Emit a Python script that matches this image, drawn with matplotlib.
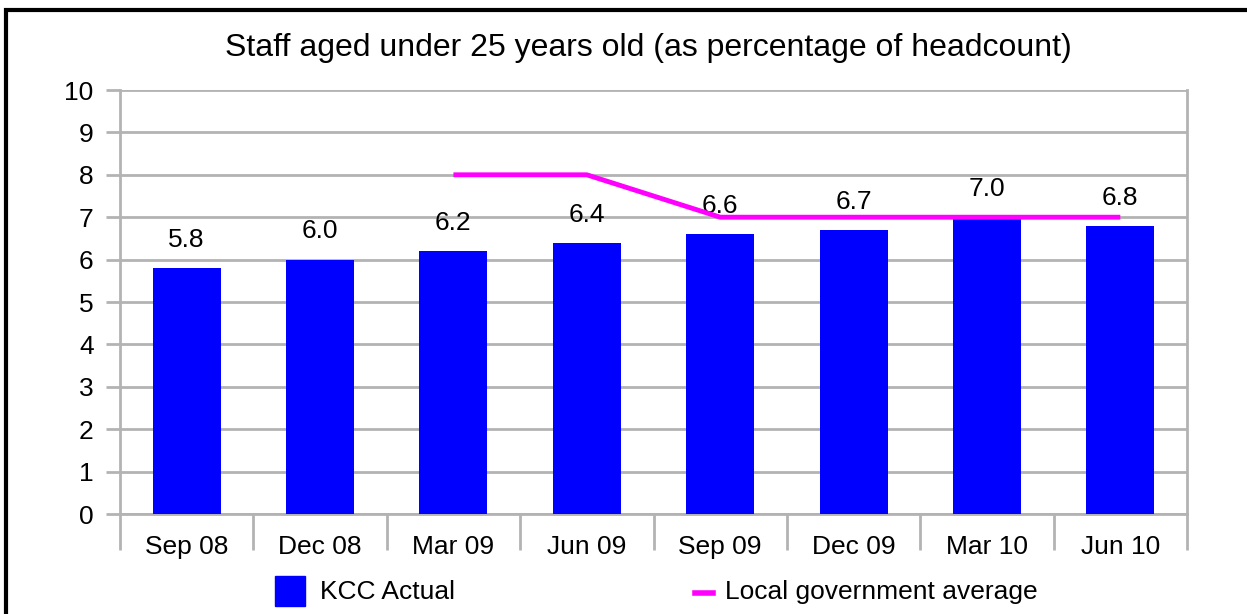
import matplotlib.pyplot as plt
from matplotlib.patches import Rectangle
from matplotlib.lines import Line2D

plt.rcParams['font.family'] = ['Liberation Sans', 'DejaVu Sans']

# Data
quarters = ["Sep 08", "Dec 08", "Mar 09", "Jun 09", "Sep 09", "Dec 09", "Mar 10", "Jun 10"]
kcc_actual = [5.8, 6.0, 6.2, 6.4, 6.6, 6.7, 7.0, 6.8]
lg_average = [None, None, 8, 8, 7, 7, 7, 7]

grey = "#b3b3b3"
W, H = 1247, 614

fig = plt.figure(figsize=(W / 100, H / 100), dpi=100)
ax = fig.add_axes([120 / W, 1 - 514 / H, (1187 - 120) / W, (514 - 90) / H])

x = list(range(len(quarters)))
ax.bar(x, kcc_actual, width=0.51, color="#0000ff", zorder=3)
for xi, v in zip(x, kcc_actual):
    ax.text(xi, v + 0.38, f"{v:.1f}", ha="center", va="bottom", fontsize=19)

lx = [xi for xi, v in zip(x, lg_average) if v is not None]
ly = [v for v in lg_average if v is not None]
ax.plot(lx, ly, color="#ff00ff", linewidth=3.5, zorder=4, solid_capstyle="butt")

ax.set_xlim(-0.5, len(quarters) - 0.5)
ax.set_ylim(0, 10)
ax.set_yticks(range(0, 11))
ax.yaxis.grid(True, color=grey, linewidth=2, zorder=0)
ax.set_axisbelow(True)

ax.set_xticks(x)
ax.set_xticklabels(quarters, fontsize=19)
ax.set_xticks([i + 0.5 for i in range(-1, len(quarters))], minor=True)
ax.tick_params(axis="x", which="major", length=0, pad=15)
ax.tick_params(axis="x", which="minor", length=26, width=2, color=grey)
ax.tick_params(axis="y", length=10, width=2, color=grey, labelsize=19, pad=9)

ax.spines["top"].set_visible(False)
for side in ["left", "right", "bottom"]:
    ax.spines[side].set_color(grey)
    ax.spines[side].set_linewidth(2)

fig.text(648 / W, 1 - 48 / H, "Staff aged under 25 years old (as percentage of headcount)",
         ha="center", va="center", fontsize=23)

# legend
fig.patches.append(Rectangle((275 / W, 1 - 606 / H), 30 / W, 30 / H,
                             transform=fig.transFigure, color="#0000ff"))
fig.text(320 / W, 1 - 592 / H, "KCC Actual", ha="left", va="center", fontsize=19)
fig.lines.append(Line2D([695 / W, 713 / W], [1 - 593 / H, 1 - 593 / H],
                        transform=fig.transFigure, color="#ff00ff", linewidth=4))
fig.text(725 / W, 1 - 592 / H, "Local government average", ha="left", va="center", fontsize=19)

fig.patches.append(Rectangle((6 / W, -0.02), 1.05, 1 - 10 / H + 0.02,
                             transform=fig.transFigure, fill=False,
                             edgecolor="black", linewidth=3))

fig.savefig("out.png", dpi=100)
